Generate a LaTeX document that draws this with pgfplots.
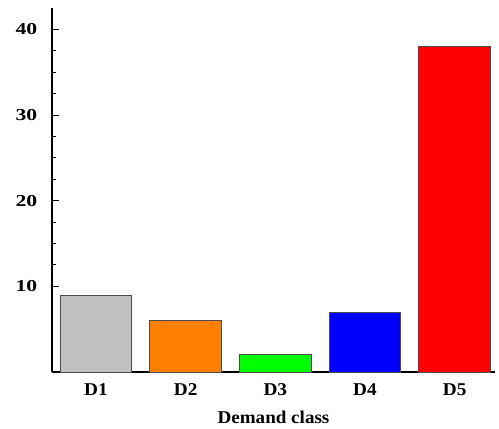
\documentclass[border=0pt]{standalone}
\usepackage{pgfplots}
\pgfplotsset{compat=1.18}
\usepackage{fontspec}
\setmainfont{Liberation Serif}
\definecolor{bgray}{RGB}{192,192,192}
\definecolor{borange}{RGB}{255,128,0}
\definecolor{bgreen}{RGB}{0,255,0}
\definecolor{bblue}{RGB}{0,0,255}
\definecolor{bred}{RGB}{255,0,0}
\begin{document}
\begin{tikzpicture}
\useasboundingbox (-39pt,-42pt) rectangle (335.25pt,279pt);
\begin{axis}[
  at={(0,0)}, anchor=south west,
  scale only axis,
  width=332.25pt, height=273pt,
  xmin=-0.49, xmax=4.45,
  ymin=0, ymax=42.5,
  axis x line*=bottom, axis y line*=left,
  axis line style={black, line width=1.6pt, -},
  xtick={0,1,2,3,4},
  xticklabels={D1,D2,D3,D4,D5},
  x tick style={draw=none},
  ytick={10,20,30,40},
  minor y tick num=3,
  y tick style={black, line width=0.8pt},
  tick align=inside,
  major tick length=5pt,
  minor tick length=3pt,
  /pgf/number format/assume math mode=true,
  yticklabel style={font=\fontsize{12.5pt}{14pt}\selectfont\bfseries, xscale=1.3, anchor=east, xshift=-5pt},
  xticklabel style={font=\fontsize{13.5pt}{15pt}\selectfont\bfseries, xscale=1.07, anchor=north, yshift=0pt},
  xlabel={Demand class},
  xlabel style={font=\fontsize{13.5pt}{15pt}\selectfont\bfseries, xscale=1.06, yshift=-5pt},
  ybar, bar width=0.8, bar shift=0pt,
  clip=false,
]
\addplot[fill=bgray, draw=black!70, line width=0.6pt] coordinates {(0,9)};
\addplot[fill=borange, draw=black!70, line width=0.6pt] coordinates {(1,6)};
\addplot[fill=bgreen, draw=black!70, line width=0.6pt] coordinates {(2,2)};
\addplot[fill=bblue, draw=black!70, line width=0.6pt] coordinates {(3,7)};
\addplot[fill=bred, draw=black!70, line width=0.6pt] coordinates {(4,38)};
\end{axis}
\end{tikzpicture}
\end{document}
